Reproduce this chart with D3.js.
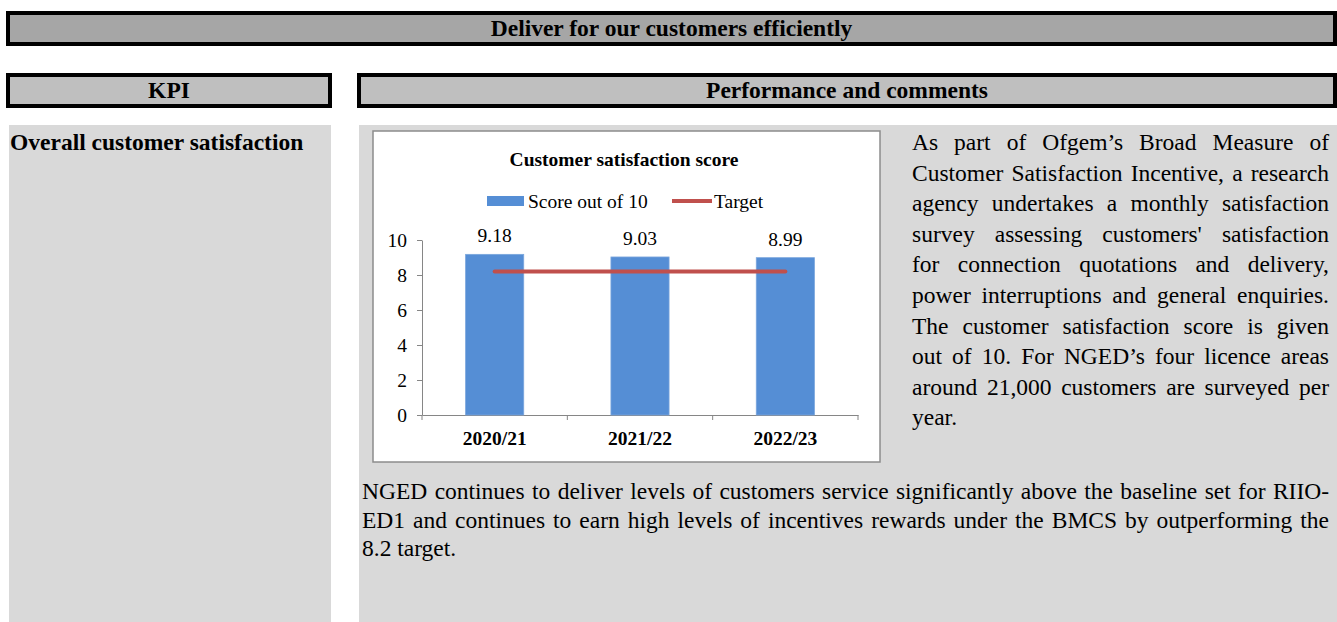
<!DOCTYPE html>
<html>
<head>
<meta charset="utf-8">
<script src="https://cdn.jsdelivr.net/npm/d3@7"></script>
<style>
  body { margin: 0; background: #fff; }
  svg { display: block; font-family: "Liberation Serif", "Times New Roman", serif; }
</style>
</head>
<body>
<div id="content"></div>
<script>
// chart data
const years = ["2020/21", "2021/22", "2022/23"];
const scores = [9.18, 9.03, 8.99];
const target = [8.2, 8.2, 8.2];
const yTicks = [0, 2, 4, 6, 8, 10];
const seriesNames = ["Score out of 10", "Target"];

// page text
const pageTitle = "Deliver for our customers efficiently";
const colHeads = ["KPI", "Performance and comments"];
const kpiName = "Overall customer satisfaction";
const chartTitle = "Customer satisfaction score";
const sideLines = [
    "As part of Ofgem’s Broad Measure of",
    "Customer Satisfaction Incentive, a research",
    "agency undertakes a monthly satisfaction",
    "survey  assessing customers' satisfaction",
    "for  connection quotations and delivery,",
    "power interruptions and general enquiries.",
    "The customer satisfaction score is given",
    "out of 10.  For NGED’s four licence areas",
    "around 21,000 customers are surveyed per",
    "year."
];
const bottomLines = [
    "NGED continues to deliver levels of customers service significantly above the baseline set for RIIO-",
    "ED1 and continues to earn high levels of incentives rewards under the BMCS by outperforming the",
    "8.2 target."
];

const W = 1337, H = 622;
const svg = d3.select("#content").append("svg")
    .attr("width", W)
    .attr("height", H);

// header bars
function headBar(x0, x1, y0, y1, fill, label) {
    svg.append("rect")
        .attr("x", x0 + 2).attr("y", y0 + 2)
        .attr("width", x1 - x0 - 4).attr("height", y1 - y0 - 4)
        .style("fill", fill)
        .style("stroke", "#000")
        .style("stroke-width", 4);
    svg.append("text")
        .attr("x", (x0 + x1) / 2)
        .attr("y", (y0 + y1) / 2)
        .attr("dy", "0.34em")
        .attr("text-anchor", "middle")
        .style("font-weight", "bold")
        .style("font-size", "23.5px")
        .text(label);
}
headBar(6, 1337, 11, 46, "#a6a6a6", pageTitle);
headBar(6, 332, 73, 108, "#bfbfbf", colHeads[0]);
headBar(357, 1337, 73, 108, "#bfbfbf", colHeads[1]);

// grey panels
svg.append("rect").attr("x", 9).attr("y", 125).attr("width", 322).attr("height", H - 125).style("fill", "#d9d9d9");
svg.append("rect").attr("x", 359).attr("y", 125).attr("width", W - 359).attr("height", H - 125).style("fill", "#d9d9d9");

svg.append("text")
    .attr("x", 10).attr("y", 150)
    .style("font-weight", "bold")
    .style("font-size", "23.5px")
    .text(kpiName);

// justified text lines
function justified(lines, x0, x1, y0, step, size) {
    lines.forEach(function (line, i) {
        const words = line.split(/\s+/);
        const t = svg.append("text")
            .attr("y", y0 + i * step)
            .style("font-size", size + "px");
        const spans = words.map(w => t.append("tspan").text(w));
        const widths = spans.map(s => s.node().getComputedTextLength());
        const total = d3.sum(widths);
        const last = i === lines.length - 1;
        const gap = (last || words.length < 2) ? size * 0.25 : (x1 - x0 - total) / (words.length - 1);
        let x = x0;
        spans.forEach(function (s, k) {
            s.attr("x", x);
            x += widths[k] + gap;
        });
    });
}
justified(sideLines, 912, 1329, 150, 30.6, 23.5);
justified(bottomLines, 362, 1329, 499, 28.5, 23.5);

// chart box
const box = { x0: 373, y0: 131, x1: 880, y1: 462 };
svg.append("rect")
    .attr("x", box.x0).attr("y", box.y0)
    .attr("width", box.x1 - box.x0).attr("height", box.y1 - box.y0)
    .style("fill", "#fff")
    .style("stroke", "#8c8c8c")
    .style("stroke-width", 1.5);

const chart = svg.append("g");

chart.append("text")
    .attr("x", 624).attr("y", 166)
    .attr("text-anchor", "middle")
    .style("font-weight", "bold")
    .style("font-size", "19.5px")
    .text(chartTitle);

const x = d3.scaleBand()
    .domain(years)
    .range([422, 858])
    .paddingInner(0.6)
    .paddingOuter(0.3);
const y = d3.scaleLinear()
    .domain([0, 10])
    .range([415, 240]);

// legend
const legend = chart.append("g").style("font-size", "19.5px");
legend.append("rect")
    .attr("x", 487).attr("y", 196).attr("width", 37).attr("height", 10)
    .style("fill", "#558ed5");
legend.append("text").attr("x", 528).attr("y", 208).text(seriesNames[0]);
legend.append("line")
    .attr("x1", 672).attr("x2", 712).attr("y1", 201).attr("y2", 201)
    .style("stroke", "#c0504d").style("stroke-width", 4);
legend.append("text").attr("x", 714).attr("y", 208).text(seriesNames[1]);

// y axis
const yAxis = chart.append("g")
    .attr("transform", "translate(422,0)")
    .call(d3.axisLeft(y).tickValues(yTicks).tickSize(5).tickSizeOuter(0).tickPadding(10));
yAxis.selectAll("path, line").style("stroke", "#868686");
yAxis.selectAll("text")
    .style("font-family", "Liberation Serif, serif")
    .style("font-size", "19.5px")
    .style("fill", "#000");

// x axis, ticks sit between the categories
const xAxis = chart.append("g")
    .attr("transform", "translate(0,415)")
    .call(d3.axisBottom(x).tickSize(0).tickSizeOuter(0).tickPadding(16));
xAxis.selectAll("path").style("stroke", "#868686");
xAxis.selectAll("text")
    .style("font-family", "Liberation Serif, serif")
    .style("font-weight", "bold")
    .style("font-size", "19.5px")
    .style("fill", "#000");
const bounds = years.map(d => x(d) + x.bandwidth() / 2 - x.step() / 2);
bounds.push(x(years[years.length - 1]) + x.bandwidth() / 2 + x.step() / 2);
xAxis.selectAll(".bound")
    .data(bounds)
    .enter()
    .append("line")
    .attr("x1", d => d).attr("x2", d => d)
    .attr("y1", 0).attr("y2", 5)
    .style("stroke", "#868686");

// bars
chart.selectAll(".bar")
    .data(scores)
    .enter()
    .append("rect")
    .attr("x", (d, i) => x(years[i]))
    .attr("y", d => y(d))
    .attr("width", x.bandwidth())
    .attr("height", d => y(0) - y(d))
    .style("fill", "#558ed5")
    .style("stroke", "#7aa6dd")
    .style("stroke-width", 0.8);

chart.selectAll(".val")
    .data(scores)
    .enter()
    .append("text")
    .attr("x", (d, i) => x(years[i]) + x.bandwidth() / 2)
    .attr("y", d => y(d) - 12)
    .attr("text-anchor", "middle")
    .style("font-size", "19.5px")
    .text(d => d.toFixed(2));

// target line
const line = d3.line()
    .x((d, i) => x(years[i]) + x.bandwidth() / 2)
    .y(d => y(d));
chart.append("path")
    .datum(target)
    .attr("d", line)
    .style("fill", "none")
    .style("stroke", "#c0504d")
    .style("stroke-width", 4)
    .style("stroke-linecap", "round");
</script>
</body>
</html>
